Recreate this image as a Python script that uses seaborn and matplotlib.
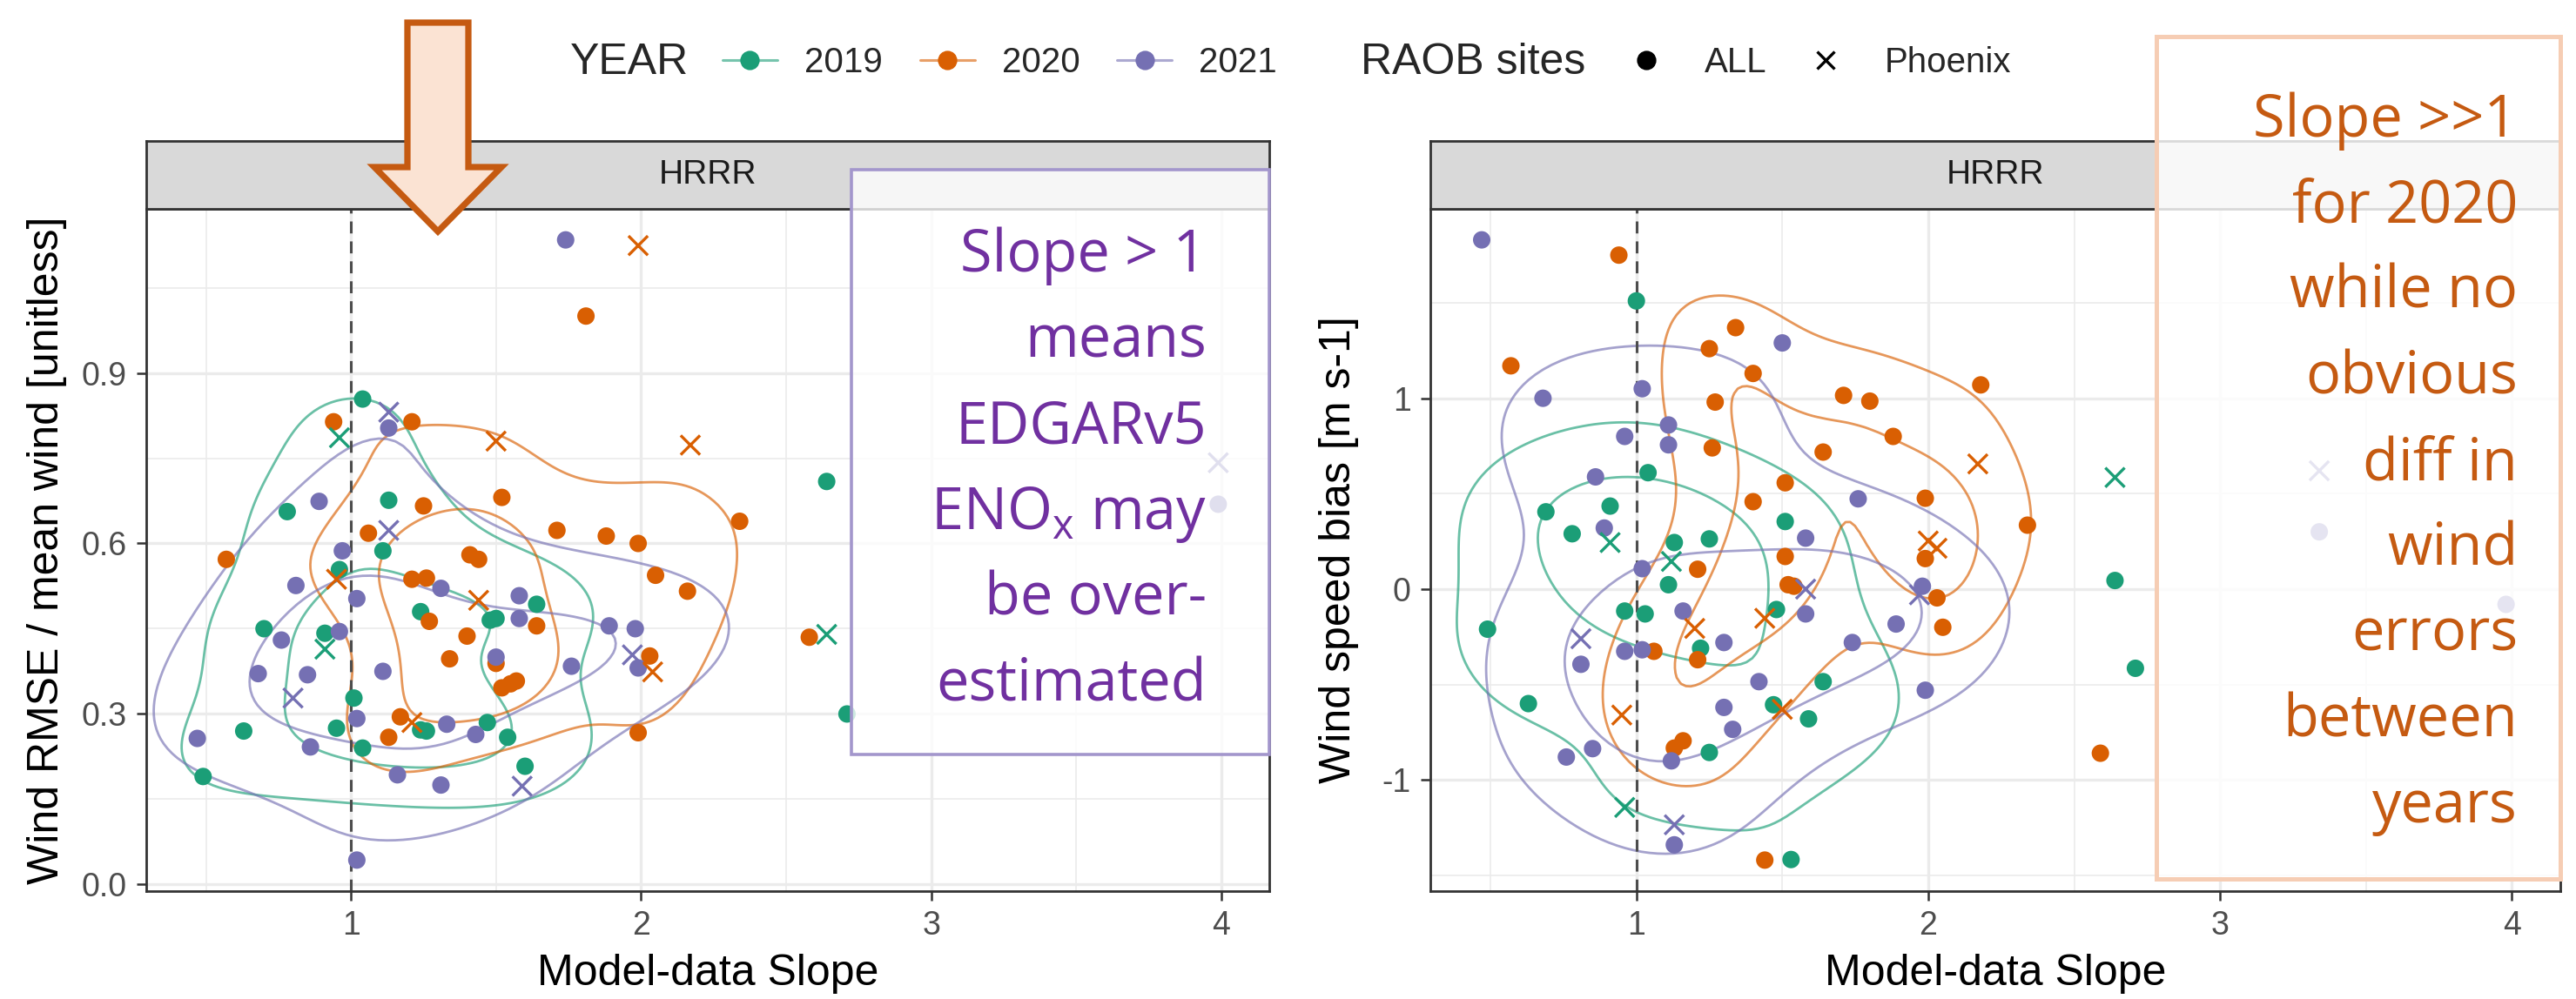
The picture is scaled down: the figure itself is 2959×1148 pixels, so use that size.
import numpy as np
import pandas as pd
import matplotlib
matplotlib.use("Agg")
import matplotlib.pyplot as plt
import seaborn as sns
from matplotlib.lines import Line2D
from matplotlib.patches import Rectangle, Polygon

# ---------------- data ----------------
years = ["2019", "2020", "2021"]
palette = {"2019": "#1B9E77", "2020": "#D95F02", "2021": "#7570B3"}

# Left panel: Model-data slope vs Wind RMSE / mean wind
L19_all_x = [1.04, 0.78, 1.13, 1.11, 0.96, 1.64, 1.24, 1.48, 1.50, 0.70, 0.91, 1.01, 1.24, 1.26, 1.47, 1.54, 0.95, 1.04, 0.63, 1.60, 0.49, 2.64, 2.71]
L19_all_y = [0.854, 0.656, 0.676, 0.587, 0.554, 0.493, 0.480, 0.465, 0.468, 0.450, 0.442, 0.328, 0.272, 0.270, 0.285, 0.259, 0.275, 0.240, 0.270, 0.208, 0.190, 0.709, 0.300]
L19_phx_x = [0.96, 0.91, 2.64]
L19_phx_y = [0.786, 0.414, 0.440]

L20_all_x = [1.81, 0.94, 1.21, 1.52, 1.25, 1.71, 1.88, 1.99, 1.06, 0.57, 1.41, 1.44, 1.21, 1.26, 2.05, 2.16, 1.27, 1.64, 1.40, 2.03, 1.34, 1.50, 1.52, 1.55, 1.57, 1.17, 1.13, 1.99, 2.34, 2.58]
L20_all_y = [1.000, 0.814, 0.814, 0.681, 0.666, 0.623, 0.613, 0.600, 0.618, 0.572, 0.580, 0.572, 0.537, 0.539, 0.544, 0.516, 0.463, 0.455, 0.437, 0.402, 0.397, 0.389, 0.346, 0.353, 0.358, 0.295, 0.259, 0.267, 0.639, 0.435]
L20_phx_x = [1.99, 1.50, 2.17, 0.95, 1.44, 2.04, 1.21]
L20_phx_y = [1.124, 0.780, 0.773, 0.537, 0.500, 0.374, 0.285]

L21_all_x = [1.74, 1.13, 0.89, 0.97, 1.31, 0.81, 1.02, 1.58, 1.58, 0.96, 0.76, 1.89, 1.98, 1.99, 1.50, 1.76, 0.68, 0.85, 1.11, 1.02, 1.33, 1.43, 0.47, 0.86, 1.16, 1.31, 1.02, 3.99]
L21_all_y = [1.134, 0.803, 0.674, 0.587, 0.521, 0.526, 0.503, 0.508, 0.468, 0.445, 0.430, 0.455, 0.450, 0.381, 0.400, 0.384, 0.371, 0.369, 0.375, 0.292, 0.282, 0.264, 0.257, 0.242, 0.193, 0.175, 0.043, 0.669]
L21_phx_x = [1.13, 1.13, 1.97, 0.80, 1.59, 3.99]
L21_phx_y = [0.831, 0.623, 0.404, 0.328, 0.173, 0.742]

# Right panel: Model-data slope vs Wind speed bias
R19_all_x = [1.00, 1.04, 0.69, 0.91, 1.51, 0.78, 1.13, 1.25, 1.11, 0.49, 0.96, 1.03, 1.48, 1.22, 1.64, 0.63, 1.47, 1.59, 1.25, 1.53, 2.64, 2.71]
R19_all_y = [1.51, 0.61, 0.405, 0.435, 0.354, 0.29, 0.244, 0.263, 0.023, -0.21, -0.115, -0.13, -0.107, -0.31, -0.485, -0.60, -0.606, -0.68, -0.856, -1.417, 0.045, -0.415]
R19_phx_x = [0.91, 1.12, 0.96, 2.64]
R19_phx_y = [0.244, 0.145, -1.144, 0.585]

R20_all_x = [0.94, 1.34, 1.25, 0.57, 1.40, 2.18, 1.27, 1.71, 1.80, 1.26, 1.88, 1.64, 1.51, 1.40, 1.99, 1.99, 1.21, 1.51, 1.52, 1.54, 2.03, 2.05, 1.06, 1.21, 1.16, 1.13, 1.44, 2.34, 2.59]
R20_all_y = [1.75, 1.37, 1.26, 1.17, 1.13, 1.07, 0.98, 1.015, 0.985, 0.74, 0.80, 0.718, 0.557, 0.458, 0.476, 0.16, 0.104, 0.171, 0.023, 0.015, -0.046, -0.20, -0.326, -0.37, -0.795, -0.833, -1.42, 0.335, -0.86]
R20_phx_x = [2.17, 2.00, 2.03, 1.44, 1.20, 1.50, 0.95]
R20_phx_y = [0.656, 0.252, 0.214, -0.153, -0.206, -0.63, -0.66]

R21_all_x = [0.47, 1.50, 0.68, 1.02, 1.11, 0.96, 1.11, 0.86, 1.76, 0.89, 1.58, 1.02, 1.98, 1.16, 1.58, 1.89, 1.30, 1.74, 0.96, 1.02, 0.81, 1.42, 1.99, 1.30, 1.33, 1.12, 0.76, 0.85, 1.13, 3.34, 3.98]
R21_all_y = [1.83, 1.29, 1.00, 1.05, 0.86, 0.80, 0.756, 0.588, 0.473, 0.32, 0.267, 0.107, 0.015, -0.115, -0.13, -0.183, -0.28, -0.28, -0.326, -0.318, -0.394, -0.485, -0.53, -0.62, -0.735, -0.90, -0.88, -0.836, -1.34, 0.30, -0.08]
R21_phx_x = [1.58, 1.97, 0.81, 1.13, 3.34]
R21_phx_y = [0.0, -0.03, -0.26, -1.235, 0.62]

x_ticks = [1, 2, 3, 4]
left_yticks = [0.0, 0.3, 0.6, 0.9]
left_yticklabels = ["0.0", "0.3", "0.6", "0.9"]
right_yticks = [-1, 0, 1]
right_yticklabels = ["-1", "0", "1"]

purple_lines = ["Slope > 1", "means", "EDGARv5", r"ENO$_\mathregular{x}$ may", "be over-", "estimated"]
orange_lines = ["Slope >>1", "for 2020", "while no", "obvious", "diff in", "wind", "errors", "between", "years"]


def build(sets):
    rows = []
    for yr, site, xs, ys in sets:
        for a, b in zip(xs, ys):
            rows.append({"YEAR": yr, "site": site, "slope": a, "value": b})
    return pd.DataFrame(rows)


df_left = build([
    ("2019", "ALL", L19_all_x, L19_all_y), ("2019", "Phoenix", L19_phx_x, L19_phx_y),
    ("2020", "ALL", L20_all_x, L20_all_y), ("2020", "Phoenix", L20_phx_x, L20_phx_y),
    ("2021", "ALL", L21_all_x, L21_all_y), ("2021", "Phoenix", L21_phx_x, L21_phx_y),
])
df_right = build([
    ("2019", "ALL", R19_all_x, R19_all_y), ("2019", "Phoenix", R19_phx_x, R19_phx_y),
    ("2020", "ALL", R20_all_x, R20_all_y), ("2020", "Phoenix", R20_phx_x, R20_phx_y),
    ("2021", "ALL", R21_all_x, R21_all_y), ("2021", "Phoenix", R21_phx_x, R21_phx_y),
])

# ---------------- style ----------------
sns.set_theme(style="white")
plt.rcParams["font.family"] = ["Liberation Sans", "DejaVu Sans"]

W, H = 2959, 1148
DPI = 200
fig = plt.figure(figsize=(W / DPI, H / DPI), dpi=DPI)
fig.patch.set_facecolor("white")


def fx(px):
    return px / W


def fy(py):
    return 1 - py / H


GRID = "#ebebeb"
BORDER = "#333333"


def panel(left_px, right_px, df, ylim, yticks, yticklabels, yminor, ylabel, ylab_x):
    top_px, bot_px = 240, 1024
    ax = fig.add_axes([fx(left_px), fy(bot_px), fx(right_px - left_px), (bot_px - top_px) / H])
    ax.set_facecolor("white")
    ax.set_axisbelow(True)

    sns.kdeplot(data=df, x="slope", y="value", hue="YEAR", hue_order=years, palette=palette,
                levels=[0.33, 0.72], common_norm=False, bw_adjust=0.8,
                linewidths=1.0, alpha=0.65, legend=False, ax=ax)
    sns.scatterplot(data=df[df.site == "ALL"], x="slope", y="value", hue="YEAR", hue_order=years,
                    palette=palette, marker="o", s=52, linewidth=0, legend=False, ax=ax, zorder=3)
    sns.scatterplot(data=df[df.site == "Phoenix"], x="slope", y="value", hue="YEAR", hue_order=years,
                    palette=palette, marker="x", s=64, linewidth=1.2, legend=False, ax=ax, zorder=3)
    ax.axvline(1, color="#4d4d4d", lw=1.1, ls=(0, (4.5, 3)), zorder=2.5)

    ax.set_xlim(0.294, 4.166)
    ax.set_ylim(*ylim)
    ax.set_xticks(x_ticks)
    ax.set_xticklabels([str(t) for t in x_ticks])
    ax.set_xticks([0.5, 1.5, 2.5, 3.5], minor=True)
    ax.set_yticks(yticks)
    ax.set_yticklabels(yticklabels)
    ax.set_yticks(yminor, minor=True)
    ax.grid(which="major", color=GRID, lw=1.2)
    ax.grid(which="minor", color=GRID, lw=0.6)
    ax.tick_params(which="major", length=4, width=0.9, color=BORDER, labelsize=13.5,
                   labelcolor="#4d4d4d", pad=4, left=True, bottom=True)
    ax.tick_params(which="minor", length=0)
    for s in ax.spines.values():
        s.set_color(BORDER)
        s.set_linewidth(1.0)
    ax.set_xlabel("Model-data Slope", fontsize=18, color="black")
    ax.set_ylabel(ylabel, fontsize=18, color="black")
    w_px = right_px - left_px
    ax.yaxis.set_label_coords((ylab_x - left_px) / w_px, 0.5)
    ax.xaxis.set_label_coords(0.5, (bot_px - 1096) / (bot_px - top_px))

    # facet strip
    sax = fig.add_axes([fx(left_px), fy(240), fx(w_px), 78 / H])
    sax.set_facecolor("#d9d9d9")
    sax.set_xticks([])
    sax.set_yticks([])
    for s in sax.spines.values():
        s.set_color(BORDER)
        s.set_linewidth(1.0)
    sax.text(0.5, 0.5, "HRRR", ha="center", va="center", fontsize=14, color="#1a1a1a",
             transform=sax.transAxes)
    return ax


panel(168, 1458, df_left, (-0.0116, 1.1886), left_yticks, left_yticklabels,
      [0.15, 0.45, 0.75, 1.05], "Wind RMSE / mean wind [unitless]", 77)
panel(1643, 2941, df_right, (-1.5825, 1.9925), right_yticks, right_yticklabels,
      [-1.5, -0.5, 0.5, 1.5], "Wind speed bias [m s-1]", 1561)

# ---------------- legends ----------------
LEG_Y = 72
fig.text(fx(655), fy(LEG_Y), "YEAR", fontsize=18, va="center", ha="left")
year_handles = [(Line2D([0], [0], color=palette[y], lw=1.1, alpha=0.6),
                 Line2D([0], [0], color=palette[y], marker="o", ls="none", markersize=7))
                for y in years]
fig.legend(year_handles, years, loc="center left", bbox_to_anchor=(fx(830), fy(LEG_Y)), ncol=3,
           frameon=False, fontsize=14.5, handlelength=1.56, handletextpad=0.77, columnspacing=1.07,
           borderpad=0, borderaxespad=0)

fig.text(fx(1563), fy(LEG_Y), "RAOB sites", fontsize=18, va="center", ha="left")
site_handles = [Line2D([0], [0], color="black", marker="o", ls="none", markersize=7),
                Line2D([0], [0], color="black", marker="x", ls="none", markersize=7.5, mew=1.2)]
fig.legend(site_handles, ["ALL", "Phoenix"], loc="center left", bbox_to_anchor=(fx(1871), fy(LEG_Y)),
           ncol=2, frameon=False, fontsize=14.5, handlelength=1.0, handletextpad=1.17,
           columnspacing=1.17, borderpad=0, borderaxespad=0)

# ---------------- annotations ----------------
arrow_px = [(468, 26), (538, 26), (538, 192), (576, 192), (503, 266), (430, 192), (468, 192)]
fig.add_artist(Polygon([(fx(a), fy(b)) for a, b in arrow_px], closed=True, transform=fig.transFigure,
                       facecolor="#fbe3d3", edgecolor="#c55a11", lw=2.6, zorder=5))

fig.add_artist(Rectangle((fx(978), fy(867)), fx(1458 - 978), (867 - 195) / H, transform=fig.transFigure,
                         facecolor=(1, 1, 1, 0.78), edgecolor="#a396cc", lw=1.3, zorder=4))
fig.add_artist(Rectangle((fx(2477), fy(1010)), fx(2941 - 2477), (1010 - 42) / H, transform=fig.transFigure,
                         facecolor=(1, 1, 1, 0.82), edgecolor="#f6cdb4", lw=1.8, zorder=4))

for i, line in enumerate(purple_lines):
    fig.text(fx(1386), fy(312 + 98.6 * i), line, ha="right", va="baseline", fontsize=24,
             color="#7030a0", family=["Open Sans", "DejaVu Sans"], zorder=6)
for i, line in enumerate(orange_lines):
    fig.text(fx(2892), fy(157 + 98.5 * i), line, ha="right", va="baseline", fontsize=24,
             color="#c55a11", family=["Open Sans", "DejaVu Sans"], zorder=6)

fig.savefig("out.png", dpi=DPI, facecolor="white")
